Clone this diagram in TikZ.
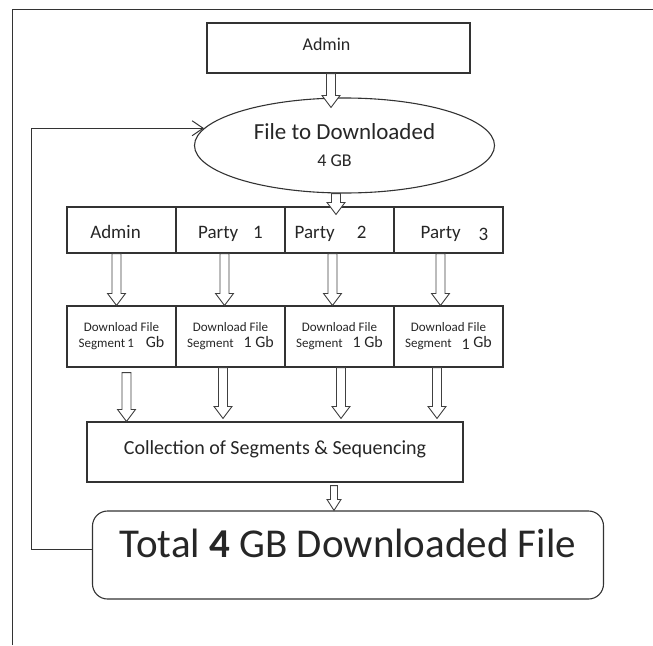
\documentclass[tikz,border=0pt]{standalone}
\usepackage{fontspec}
\setmainfont{Carlito}
\usetikzlibrary{shapes.geometric,calc,arrows.meta}
\newcommand{\fsz}[2]{\fontsize{#1}{#2}\selectfont}
\tikzset{
    box/.style={draw=black!80,line width=1.1pt,rectangle,inner sep=0pt,text=black!85},
    cell/.style={box,minimum width=109pt,minimum height=46pt,font=\fsz{19}{23},text height=21pt,text depth=4pt},
    segcell/.style={box,minimum width=109pt,minimum height=61pt,align=center,font=\fsz{13}{16}},
    blkarrow/.style n args={3}{draw=black!75,line width=0.9pt,fill=white,
        to path={let \p1=(\tikztostart), \p2=(\tikztotarget) in
        (\x1-#1,\y1) -- (\x1-#1,\y2+#3) -- (\x1-#2,\y2+#3) -- (\x1,\y2) -- (\x1+#2,\y2+#3) -- (\x1+#1,\y2+#3) -- (\x1+#1,\y1) -- cycle}},
    blk/.style={blkarrow={4.5pt}{9pt}{12pt}},
    thinblk/.style={blkarrow={3.5pt}{7pt}{11pt}},
    fb/.style={draw=black!80,line width=1pt,-{Straight Barb[length=11pt,width=15pt]}}
}
\begin{document}
\begin{tikzpicture}[x=1pt,y=-1pt]
    \useasboundingbox (0,0) rectangle (653,645);
    \draw[black!80,line width=1pt] (12,645) -- (12,9) -- (653,9);

    \node[box,minimum width=263pt,minimum height=50pt,font=\fsz{18}{22},text height=13pt,text depth=9pt] (top) at (338.5,48) {\hspace*{-24pt}Admin};
    \node[draw=black!80,line width=1.1pt,ellipse,minimum width=300pt,minimum height=95pt,inner sep=0pt,align=center,text=black!85,font=\fsz{18}{27}] (file) at (344.5,145.5) {{\fsz{23}{27}File to Downloaded}\\\hspace*{-20pt}4 GB};

    \node[cell] (p0) at (121.5,230) {\hspace*{-12pt}Admin};
    \node[cell] (p1) at (230.5,230) {Party\hspace{15pt}1};
    \node[cell] (p2) at (339.5,230) {\hspace*{-18pt}Party\hspace{22pt}2};
    \node[cell] (p3) at (448.5,230) {Party\hspace{18pt}\raisebox{-2pt}{3}\hspace*{-12pt}};

    \node[segcell] (s0) at (121.5,336.5) {Download File\\Segment\,1\hspace{12pt}{\fsz{16}{16}Gb}};
    \node[segcell] (s1) at (230.5,336.5) {Download File\\Segment\hspace{10pt}{\fsz{16}{16}1 Gb}};
    \node[segcell] (s2) at (339.5,336.5) {Download File\\Segment\hspace{10pt}{\fsz{16}{16}1 Gb}};
    \node[segcell] (s3) at (448.5,336.5) {Download File\\Segment\hspace{10pt}{\fsz{16}{16}\raisebox{-2pt}{1} Gb}};

    \node[box,minimum width=376pt,minimum height=60pt,font=\fsz{20}{24},text depth=8pt] (collect) at (275,452) {Collection of Segments \& Sequencing};
    \node[box,rounded corners=15pt,minimum width=511pt,minimum height=88pt,font=\fsz{41}{48},text depth=24pt] (total) at (348,555) {Total \textbf{4} GB Downloaded File};

    \draw[blk] ([xshift=-7.5pt]top.south) to ([yshift=-10pt]file.north);
    \draw[blk] ([xshift=-8.5pt]file.south) to ([yshift=-8pt]p2.north);

    \draw[blk] ([xshift=-5pt]p0.south) to (s0.north);
    \draw[blk] ([xshift=-6pt]p1.south) to (s1.north);
    \draw[blk] ([xshift=-7pt]p2.south) to (s2.north);
    \draw[blk] ([xshift=-8pt]p3.south) to (s3.north);

    \draw[blk] ([xshift=5pt,yshift=-5pt]s0.south) to (collect.north);
    \draw[blk] ([xshift=-7.5pt]s1.south) to ([yshift=3pt]collect.north);
    \draw[blk] ([xshift=1.5pt]s2.south) to ([yshift=3pt]collect.north);
    \draw[blk] ([xshift=-11.5pt]s3.south) to ([yshift=3pt]collect.north);

    \draw[thinblk] ([xshift=59pt,yshift=-3pt]collect.south) to (total.north);

    \coordinate (corner) at (31,549);
    \draw[fb] ([yshift=6pt]total.west) -- (corner) |- (file.173);
\end{tikzpicture}
\end{document}
